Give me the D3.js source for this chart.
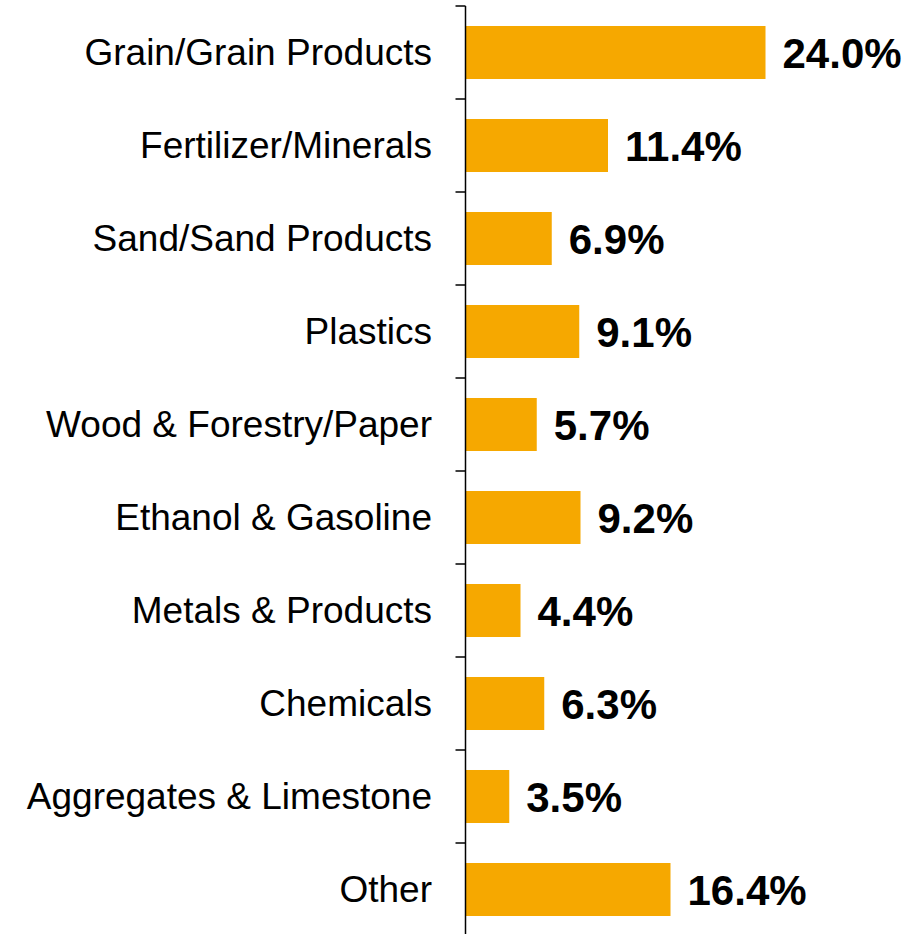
<!DOCTYPE html>
<html>
<head>
<meta charset="utf-8">
<script src="https://cdn.jsdelivr.net/npm/d3@7"></script>
<style>
  html, body { margin: 0; padding: 0; background: #fff; }
  svg { display: block; }
</style>
</head>
<body>
<svg id="chart" width="924" height="934"></svg>
<script>
const categories = [
  "Grain/Grain Products",
  "Fertilizer/Minerals",
  "Sand/Sand Products",
  "Plastics",
  "Wood & Forestry/Paper",
  "Ethanol & Gasoline",
  "Metals & Products",
  "Chemicals",
  "Aggregates & Limestone",
  "Other"
];
const values = [24.0, 11.4, 6.9, 9.1, 5.7, 9.2, 4.4, 6.3, 3.5, 16.4];
const valueLabels = ["24.0%", "11.4%", "6.9%", "9.1%", "5.7%", "9.2%", "4.4%", "6.3%", "3.5%", "16.4%"];

(function () {
const data = categories.map((c, i) => ({ cat: c, val: values[i], label: valueLabels[i] }));

const svg = d3.select("#chart");
const axisX = 465.5;
const y0 = 6, y1 = 936;

const y = d3.scaleBand()
  .domain(categories)
  .range([y0, y1])
  .paddingInner(0.43)
  .paddingOuter(0.215);

const x = d3.scaleLinear()
  .domain([0, 24])
  .range([axisX, axisX + 300]);

// bars
svg.append("g")
  .selectAll("rect")
  .data(data)
  .join("rect")
  .attr("x", x(0))
  .attr("y", d => y(d.cat))
  .attr("width", d => x(d.val) - x(0))
  .attr("height", y.bandwidth())
  .attr("fill", "#F6A800");

// axis
const bandStep = y.step();
const tickPos = d3.range(categories.length + 1).map(i => y0 + i * bandStep);
const ax = svg.append("g");
ax.append("line")
  .attr("x1", axisX).attr("x2", axisX)
  .attr("y1", y0).attr("y2", y1)
  .attr("stroke", "#000").attr("stroke-width", 1.5);
ax.selectAll("line.tick")
  .data(tickPos)
  .join("line")
  .attr("class", "tick")
  .attr("x1", axisX - 10).attr("x2", axisX)
  .attr("y1", d => d).attr("y2", d => d)
  .attr("stroke", "#000").attr("stroke-width", 1.5);

// category labels
svg.append("g")
  .selectAll("text")
  .data(data)
  .join("text")
  .attr("x", 432)
  .attr("y", d => y(d.cat) + y.bandwidth() / 2)
  .attr("dy", "0.35em")
  .attr("text-anchor", "end")
  .attr("font-family", "Liberation Sans, Arial, sans-serif")
  .attr("font-size", 37)
  .attr("fill", "#000")
  .text(d => d.cat);

// value labels
svg.append("g")
  .selectAll("text")
  .data(data)
  .join("text")
  .attr("x", d => x(d.val) + 17)
  .attr("y", d => y(d.cat) + y.bandwidth() / 2)
  .attr("dy", "0.36em")
  .attr("text-anchor", "start")
  .attr("font-family", "Liberation Sans, Arial, sans-serif")
  .attr("font-weight", "bold")
  .attr("font-size", 42)
  .attr("fill", "#000")
  .text(d => d.label);
})();
</script>
</body>
</html>
